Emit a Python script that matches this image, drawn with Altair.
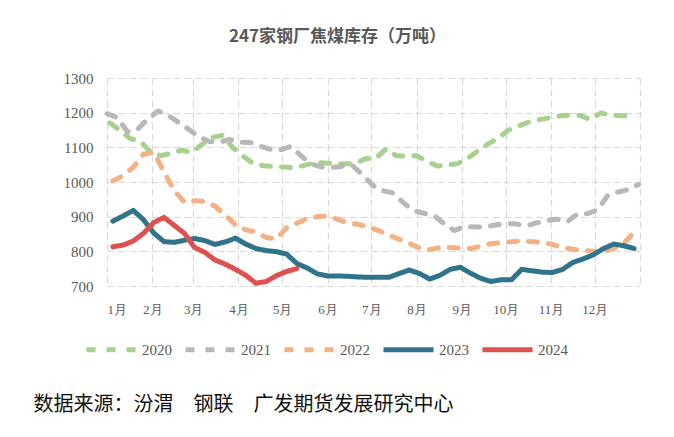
import altair as alt
import pandas as pd

# ---- data ----
years = ["2020", "2021", "2022", "2023", "2024"]
start_days = [2, 0, 4, 4, 4]  # day-of-year of first weekly observation

v2020 = [1170, 1149, 1125, 1117, 1086, 1076, 1083, 1092, 1085, 1108, 1128, 1135, 1100,
         1075, 1054, 1047, 1045, 1043, 1041, 1048, 1056, 1055, 1053, 1053, 1053, 1068,
         1068, 1095, 1076, 1074, 1076, 1060, 1046, 1049, 1053, 1068, 1090, 1110, 1127,
         1150, 1162, 1173, 1180, 1185, 1190, 1193, 1192, 1180, 1199, 1193, 1191, 1191]
v2021 = [1197, 1186, 1145, 1152, 1182, 1205, 1192, 1172, 1152, 1130, 1117, 1115, 1123,
         1115, 1114, 1103, 1094, 1093, 1103, 1075, 1052, 1043, 1042, 1045, 1048, 1021,
         990, 975, 968, 940, 917, 910, 903, 879, 860, 872, 870, 870, 876, 880, 879, 873,
         882, 888, 893, 885, 907, 909, 920, 962, 971, 978, 993]
v2022 = [1003, 1018, 1043, 1080, 1086, 1030, 975, 942, 946, 944, 930, 905, 876, 862,
         856, 840, 836, 868, 881, 895, 900, 902, 892, 882, 878, 870, 860, 847, 835, 823,
         809, 805, 811, 811, 809, 808, 815, 822, 825, 828, 830, 828, 826, 820, 810, 806,
         803, 800, 798, 808, 823, 855]
v2023 = [887, 902, 918, 891, 853, 828, 826, 832, 837, 831, 820, 827, 838, 821, 808, 802,
         799, 792, 765, 752, 735, 729, 729, 728, 726, 725, 725, 725, 736, 746, 736, 720,
         731, 748, 754, 737, 722, 713, 718, 718, 748, 744, 740, 739, 748, 768, 778, 790,
         808, 821, 816, 808]
v2024 = [813, 818, 830, 852, 883, 898, 875, 852, 811, 797, 775, 763, 748, 731, 708, 713,
         730, 742, 750]
series_values = [v2020, v2021, v2022, v2023, v2024]

month_starts = [0, 31, 59, 90, 120, 151, 181, 212, 243, 273, 304, 334, 365]
month_labels = ["1月", "2月", "3月", "4月", "5月", "6月", "7月", "8月", "9月",
                "10月", "11月", "12月", ""]
y_ticks = [700, 800, 900, 1000, 1100, 1200, 1300]

title_text = "247家钢厂焦煤库存（万吨）"
source_text = "数据来源：汾渭　钢联　广发期货发展研究中心"

colors = ["#a9d18e", "#b8b8b8", "#f4b183", "#2e758c", "#e0504f"]
dashes = [[9, 11], [9, 11], [9, 11], [1, 0], [1, 0]]

rows = []
for yr, s, vals in zip(years, start_days, series_values):
    for i, v in enumerate(vals):
        rows.append({"year": yr, "day": s + 7 * i, "value": v})
df = pd.DataFrame(rows)

label_expr = ""
for d, lab in zip(month_starts, month_labels):
    label_expr += f"datum.value == {d} ? '{lab}' : "
label_expr += "''"

serif = "Liberation Serif"
cjk = "Noto Sans CJK SC"

legend = alt.Legend(
    title=None, orient="none", legendX=-23, legendY=244, direction="horizontal",
    symbolType="stroke", symbolSize=2500, symbolStrokeWidth=5,
    labelFont=serif, labelFontSize=15, labelColor="#595959", labelOffset=3,
    columnPadding=3,
)

chart = alt.Chart(df).mark_line(
    strokeWidth=5, strokeCap="round", strokeJoin="round"
).encode(
    x=alt.X("day:Q",
            scale=alt.Scale(domain=[0, 365], nice=False, zero=False),
            axis=alt.Axis(values=month_starts, labelExpr=label_expr, labelOverlap=False,
                          ticks=False, domain=False, grid=True,
                          labelFont=serif, labelFontSize=13, labelColor="#595959",
                          labelPadding=17,
                          title=source_text, titleX=-74, titleY=118, titleAlign="left",
                          titleBaseline="middle", titleFont=cjk, titleFontSize=20,
                          titleFontWeight="normal", titleColor="#111111")),
    y=alt.Y("value:Q",
            scale=alt.Scale(domain=[700, 1300], nice=False, zero=False),
            axis=alt.Axis(values=y_ticks, format="d", title=None, ticks=False,
                          domain=False, grid=True,
                          labelFont=serif, labelFontSize=15, labelColor="#595959",
                          labelPadding=14)),
    color=alt.Color("year:N", scale=alt.Scale(domain=years, range=colors), legend=legend),
    strokeDash=alt.StrokeDash("year:N", scale=alt.Scale(domain=years, range=dashes),
                              legend=legend),
).properties(
    width=533, height=208,
    autosize=alt.AutoSizeParams(type="none"),
    padding={"left": 99, "top": 70, "right": 26, "bottom": 143},
    title=alt.TitleParams(title_text, anchor="middle", dx=-36, offset=25,
                          font=cjk, fontSize=17, fontWeight="bold", color="#595959"),
).configure_axis(
    gridColor="#d9d9d9", gridDash=[7, 4], gridWidth=1.2
).configure_view(stroke=None)

chart.save("out.html", embed_options={"renderer": "svg", "actions": False})
